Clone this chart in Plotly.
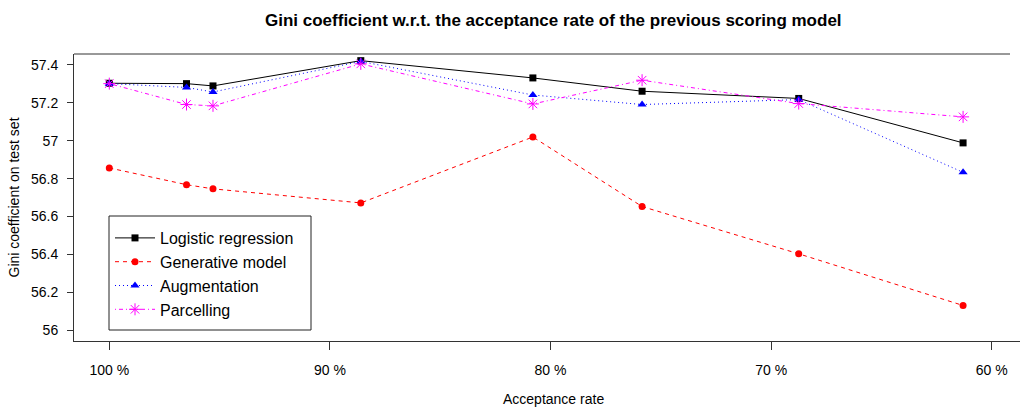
import plotly.graph_objects as go

# Acceptance rate (%) of the previous scoring model
acceptance_rate = [100, 96.5, 95.3, 88.6, 80.8, 75.85, 68.75, 61.3]

logistic_regression = [57.302, 57.300, 57.288, 57.421, 57.330, 57.260, 57.222, 56.988]
generative_model = [56.856, 56.768, 56.746, 56.672, 57.019, 56.653, 56.404, 56.132]
augmentation = [57.300, 57.280, 57.256, 57.417, 57.240, 57.190, 57.216, 56.833]
parcelling = [57.300, 57.190, 57.183, 57.404, 57.193, 57.318, 57.195, 57.125]

x_tick_vals = [100, 90, 80, 70, 60]
x_tick_text = ["100 %", "90 %", "80 %", "70 %", "60 %"]
y_tick_vals = [56, 56.2, 56.4, 56.6, 56.8, 57, 57.2, 57.4]
y_tick_text = ["56", "56.2", "56.4", "56.6", "56.8", "57", "57.2", "57.4"]

FONT = "Liberation Sans, Arial, sans-serif"
W, H = 1020, 409
ML, MR, MT, MB = 74, 0, 54, 68
PW, PH = W - ML - MR, H - MT - MB


def px(page_x):
    return (page_x - ML) / PW


def py(page_y):
    return (H - MB - page_y) / PH


fig = go.Figure()
series = [
    ("Logistic regression", logistic_regression, "#000000", "solid", "square", 7, None),
    ("Generative model", generative_model, "#FF0000", "4px,4px", "circle", 7, None),
    ("Augmentation", augmentation, "#0000FF", "1px,3px", "triangle-up", 8, None),
    ("Parcelling", parcelling, "#FF00FF", "1px,3px,4px,3px", "asterisk-open", 10, 1),
]
for name, vals, color, dash, sym, size, lw in series:
    marker = dict(symbol=sym, size=size, color=color)
    if lw:
        marker["line"] = dict(color=color, width=lw)
    else:
        marker["line"] = dict(width=0)
    fig.add_trace(go.Scatter(
        x=acceptance_rate, y=vals, mode="lines+markers", name=name,
        line=dict(color=color, width=1, dash=dash), marker=marker,
    ))

fig.update_layout(
    width=W, height=H,
    margin=dict(l=ML, r=MR, t=MT, b=MB),
    paper_bgcolor="white", plot_bgcolor="white",
    font=dict(family=FONT, color="black", size=12),
    showlegend=True,
    legend=dict(
        x=px(110), y=py(221),
        xanchor="left", yanchor="top",
        borderwidth=0, bgcolor="rgba(0,0,0,0)",
        font=dict(size=16, family=FONT), itemwidth=40,
    ),
    xaxis=dict(
        range=[101.6, 58.72], showgrid=False, zeroline=False,
        showline=True, linecolor="#333333", linewidth=1, mirror=False,
        ticks="outside", ticklen=8, tickcolor="#333333",
        tickvals=x_tick_vals, ticktext=x_tick_text,
        tickfont=dict(size=14, family=FONT), ticklabelstandoff=8,
    ),
    yaxis=dict(
        range=[55.945, 57.456], showgrid=False, zeroline=False,
        showline=True, linecolor="#333333", linewidth=1,
        ticks="outside", ticklen=6, tickcolor="#333333",
        tickvals=y_tick_vals, ticktext=y_tick_text,
        tickfont=dict(size=14, family=FONT), ticklabelstandoff=6,
    ),
    annotations=[
        dict(text="<b>Gini coefficient w.r.t. the acceptance rate of the previous scoring model</b>",
             xref="paper", yref="paper", x=px(553), y=py(20),
             xanchor="center", yanchor="middle", showarrow=False,
             font=dict(size=17, family=FONT)),
        dict(text="Acceptance rate", xref="paper", yref="paper",
             x=px(553), y=py(399),
             xanchor="center", yanchor="middle", showarrow=False,
             font=dict(size=14, family=FONT)),
        dict(text="Gini coefficient on test set", xref="paper", yref="paper",
             x=px(13), y=0.5, textangle=-90,
             xanchor="center", yanchor="middle", showarrow=False,
             font=dict(size=14, family=FONT)),
    ],
    shapes=[
        dict(type="line", xref="paper", yref="paper", x0=0, x1=px(1010),
             y0=1, y1=1, line=dict(color="#333333", width=1)),
        dict(type="rect", xref="paper", yref="paper",
             x0=px(109), x1=px(311), y0=py(330), y1=py(216),
             line=dict(color="#222222", width=1), fillcolor="rgba(0,0,0,0)", layer="below"),
    ],
)

fig.write_html("out.html",
               config={"displayModeBar": False},
               post_script="document.body.style.margin='0';document.body.style.overflow='hidden';")
